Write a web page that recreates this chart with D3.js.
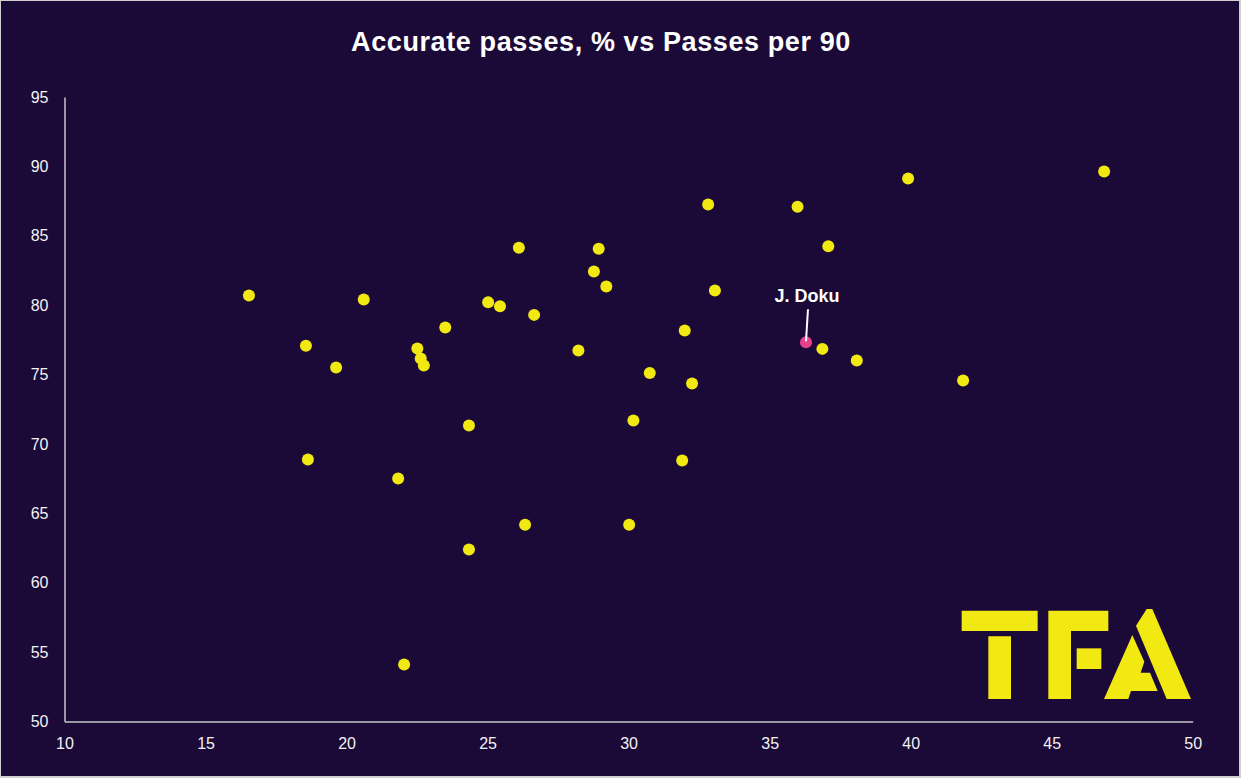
<!DOCTYPE html>
<html><head><meta charset="utf-8">
<script src="https://cdn.jsdelivr.net/npm/d3@7"></script>
<style>html,body{margin:0;padding:0;background:#d0d0d0;} svg{display:block}</style>
</head><body><svg id="chart" width="1241" height="778"></svg>
<script>
// ---- Data ----
const passesPer90 = [16.54, 18.56, 18.63, 19.63, 20.61, 21.83, 22.04, 22.51, 22.63, 22.74,
  23.50, 24.34, 24.34, 25.02, 25.44, 26.11, 26.33, 26.65, 28.22, 28.77,
  28.94, 29.21, 30.02, 30.17, 30.75, 31.90, 31.99, 32.25, 32.82, 33.06,
  35.99, 36.87, 37.08, 38.09, 39.91, 41.86, 46.86];
const accuratePasses = [80.69, 77.07, 68.88, 75.50, 80.40, 67.51, 54.11, 76.87, 76.15, 75.65,
  78.39, 71.33, 62.39, 80.21, 79.92, 84.13, 64.17, 79.30, 76.73, 82.42,
  84.06, 81.34, 64.17, 71.69, 75.12, 68.80, 78.17, 74.35, 87.25, 81.05,
  87.10, 76.85, 84.24, 76.01, 89.12, 74.57, 89.63];
const highlightName = ["J. Doku"];
const highlightX = [36.29];
const highlightY = [77.33];
const xTickValues = [10, 15, 20, 25, 30, 35, 40, 45, 50];
const yTickValues = [50, 55, 60, 65, 70, 75, 80, 85, 90, 95];
const chartTitle = "Accurate passes, % vs Passes per 90";

// ---- Layout ----
const W = 1241, H = 778;
const svg = d3.select("#chart");
const BG = "#1b0a38", YELLOW = "#f3e912", PINK = "#e8408c";

svg.append("rect").attr("x", 1).attr("y", 1).attr("width", W - 3).attr("height", H - 3).attr("fill", BG);

const x = d3.scaleLinear().domain([10, 50]).range([64.5, 1192.7]);
const y = d3.scaleLinear().domain([50, 95]).range([721.5, 97]);

svg.append("text")
  .attr("x", 601).attr("y", 51)
  .attr("text-anchor", "middle")
  .attr("fill", "#ffffff")
  .style("font-family", "'Liberation Sans', Arial, sans-serif")
  .style("font-weight", "bold")
  .style("font-size", "27px")
  .style("letter-spacing", "0.6px")
  .text(chartTitle);

// Logo (decoration)
const lp = (a) => a.map(([px, py]) => [900 + px / 3, 590 + py / 3].join(",")).join(" ");
const logoShapes = [
  [[185,62],[413,62],[413,123],[185,123]],
  [[265,139],[333,139],[333,327],[265,327]],
  [[445,62],[625,62],[625,123],[513,123],[513,327],[445,327]],
  [[530,175],[604,175],[604,237],[530,237]],
  [[740,57],[757,57],[873,327],[800,327],[708,107]],
  [[697,135],[733,215],[722,248],[750,248],[773,303],[693,303],[685,327],[612,327]]
];
svg.append("g").selectAll("polygon").data(logoShapes).join("polygon")
  .attr("points", d => lp(d)).attr("fill", YELLOW);

// Axes
const axisFont = (g) => {
  g.selectAll("text").attr("fill", "#f2f2f2")
    .style("font-family", "'Liberation Sans', Arial, sans-serif").style("font-size", "16px");
  g.select(".domain").attr("stroke", "#c4c4c4").attr("stroke-width", 1.5);
  g.selectAll(".tick line").remove();
};
svg.append("g").attr("transform", "translate(0,721.5)")
  .call(d3.axisBottom(x).tickValues(xTickValues).tickSize(0).tickSizeOuter(0).tickPadding(16))
  .call(axisFont);
svg.append("g").attr("transform", "translate(64.5,0)")
  .call(d3.axisLeft(y).tickValues(yTickValues).tickSize(0).tickSizeOuter(0).tickPadding(16))
  .call(axisFont);

// Points
const pts = passesPer90.map((v, i) => ({ x: v, y: accuratePasses[i] }));
svg.append("g").selectAll("circle").data(pts).join("circle")
  .attr("cx", d => x(d.x)).attr("cy", d => y(d.y)).attr("r", 6).attr("fill", YELLOW);

const hl = highlightName.map((n, i) => ({ name: n, x: highlightX[i], y: highlightY[i] }));
const hg = svg.append("g");
hg.selectAll("circle").data(hl).join("circle")
  .attr("cx", d => x(d.x)).attr("cy", d => y(d.y)).attr("r", 6).attr("fill", PINK);
hg.selectAll("line").data(hl).join("line")
  .attr("x1", d => x(d.x) + 2).attr("y1", d => y(d.y) - 33)
  .attr("x2", d => x(d.x)).attr("y2", d => y(d.y) - 1)
  .attr("stroke", "#ffffff").attr("stroke-width", 2);
hg.selectAll("text").data(hl).join("text")
  .attr("x", d => x(d.x) + 1).attr("y", d => y(d.y) - 40)
  .attr("text-anchor", "middle").attr("fill", "#ffffff")
  .style("font-family", "'Liberation Sans', Arial, sans-serif")
  .style("font-weight", "bold").style("font-size", "18px")
  .text(d => d.name);
</script></body></html>
